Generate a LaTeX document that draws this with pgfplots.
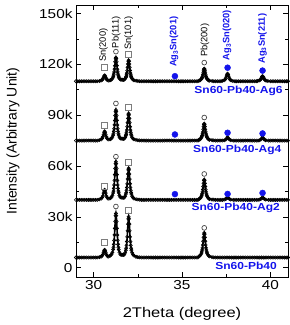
\documentclass[border=0pt]{standalone}
\usepackage{fontspec}
% horizontal text is set slightly wide; rotated text uses the plain face
\setmainfont{Liberation Sans}[FakeStretch=1.18]
\newfontfamily\plainsans{Liberation Sans}
\usepackage{pgfplots}
\pgfplotsset{compat=1.18}
\definecolor{markblue}{RGB}{20,20,235}
\definecolor{sqgray}{RGB}{125,125,125}
\definecolor{ringgray}{RGB}{70,70,70}
\pgfplotsset{
  xrd/.style={black, line width=1.6bp, mark=o, mark size=1.6bp,
    mark options={line width=0.6bp, solid}},
  snmark/.style={only marks, mark=square, mark size=3bp,
    mark options={draw=sqgray, line width=0.7bp}},
  pbmark/.style={only marks, mark=o, mark size=2.4bp,
    mark options={draw=ringgray, line width=0.7bp}},
  agmark/.style={only marks, mark=*, mark size=3bp,
    mark options={draw=markblue, fill=markblue}},
}
\begin{document}
\begin{tikzpicture}
\path[use as bounding box] (-76bp,-48bp) rectangle (214bp,277bp);
\begin{axis}[
  at={(0,0)}, anchor=south west,
  scale only axis, width=212bp, height=272bp,
  xmin=29, xmax=41, ymin=-5.5, ymax=155,
  xtick={30,35,40}, minor x tick num=1,
  ytick={0,30,60,90,120,150}, yticklabels={0,30k,60k,90k,120k,150k},
  minor y tick num=1,
  tick align=inside, major tick length=5bp, minor tick length=3bp,
  /pgf/number format/assume math mode=true,
  tick label style={font=\fontsize{13bp}{15bp}\selectfont},
  xlabel={2Theta (degree)}, ylabel={Intensity (Arbitrary Unit)},
  xlabel style={font=\fontsize{14bp}{16bp}\selectfont,
    at={(axis description cs:0.5,-0.136)}, anchor=center},
  ylabel style={font=\plainsans\fontsize{14bp}{16bp}\selectfont,
    at={(axis description cs:-0.297,0.5)}, anchor=center},
  axis line style={line width=0.8bp},
  every tick/.style={black, line width=0.6bp},
  clip=false,
]
% Sn60-Pb40
\addplot[xrd] coordinates {
(29.0,6)(29.1,6)(29.2,6)(29.3,6)(29.4,6)(29.5,6)(29.6,6)(29.7,6)(29.8,6)(29.9,6)(30.0,6)(30.1,6)(30.2,6)
(30.32,6.2)(30.42,6.5)(30.48,7.0)(30.52,7.8)(30.56,9.0)(30.59,10.0)(30.62,10.5)(30.65,10.0)(30.68,9.0)(30.72,7.8)(30.76,7.0)(30.82,6.5)(30.92,6.9)
(30.96,7.3)(31.01,7.8)(31.06,9.0)(31.10,10.7)(31.12,12.0)(31.14,13.8)(31.16,16.1)(31.18,19.3)(31.20,23.2)(31.22,27.3)(31.24,30.7)(31.26,32.0)
(31.28,30.7)(31.30,27.3)(31.32,23.2)(31.34,19.3)(31.36,16.1)(31.38,13.8)(31.40,12.0)(31.42,10.7)(31.46,9.0)(31.51,7.8)(31.56,7.6)(31.62,7.6)
(31.68,7.5)(31.73,7.7)(31.78,8.8)(31.82,10.3)(31.84,11.5)(31.86,13.2)(31.88,15.4)(31.90,18.2)(31.92,21.8)(31.94,25.7)(31.96,28.8)(31.98,30.0)
(32.00,28.8)(32.02,25.7)(32.04,21.8)(32.06,18.2)(32.08,15.4)(32.10,13.2)(32.12,11.5)(32.14,10.3)(32.18,8.8)(32.23,7.7)(32.28,7.1)(32.4,6.4)(32.5,6.2)(32.6,6.1)
(32.7,6)(32.8,6)(32.9,6)(33.0,6)(33.1,6)(33.2,6)(33.3,6)(33.4,6)(33.5,6)(33.6,6)(33.7,6)(33.8,6)(33.9,6)(34.0,6)(34.1,6)(34.2,6)(34.3,6)
(34.4,6)(34.5,6)(34.6,6)(34.7,6)(34.8,6)(34.9,6)(35.0,6)(35.1,6)(35.2,6)(35.3,6)(35.4,6)(35.5,6)(35.6,6)(35.7,6)(35.8,6)(35.9,6)
(35.96,6.65)(36.01,7.0)(36.06,7.7)(36.10,8.6)(36.12,9.3)(36.14,10.4)(36.16,11.7)(36.18,13.4)(36.20,15.6)(36.22,17.9)(36.24,19.8)(36.26,20.5)
(36.28,19.8)(36.30,17.9)(36.32,15.6)(36.34,13.4)(36.36,11.7)(36.38,10.4)(36.40,9.3)(36.42,8.6)(36.46,7.7)(36.51,7.0)(36.56,6.65)(36.7,6.2)(36.8,6.1)
(36.9,6)(37.0,6)(37.1,6)(37.2,6)(37.3,6)(37.4,6)(37.5,6)(37.6,6)(37.7,6)(37.8,6)(37.9,6)(38.0,6)(38.1,6)(38.2,6)(38.3,6)(38.4,6)(38.5,6)
(38.6,6)(38.7,6)(38.8,6)(38.9,6)(39.0,6)(39.1,6)(39.2,6)(39.3,6)(39.4,6)(39.5,6)(39.6,6)(39.7,6)(39.8,6)(39.9,6)(40.0,6)(40.1,6)(40.2,6)
(40.3,6)(40.4,6)(40.5,6)(40.6,6)(40.7,6)(40.8,6)(40.9,6)(41.0,6)
};
% Sn60-Pb40-Ag2
\addplot[xrd] coordinates {
(29.0,40)(29.1,40)(29.2,40)(29.3,40)(29.4,40)(29.5,40)(29.6,40)(29.7,40)(29.8,40)(29.9,40)(30.0,40)(30.1,40)(30.2,40)
(30.32,40.3)(30.42,40.7)(30.48,41.4)(30.52,42.3)(30.56,44.0)(30.59,45.3)(30.62,46.0)(30.65,45.3)(30.68,44.0)(30.72,42.3)(30.76,41.4)(30.82,40.7)(30.92,40.8)
(30.96,41.1)(31.01,41.6)(31.06,42.6)(31.10,44.1)(31.12,45.2)(31.14,46.8)(31.16,48.8)(31.18,51.5)(31.20,54.9)(31.22,58.5)(31.24,61.4)(31.26,62.5)
(31.28,61.4)(31.30,58.5)(31.32,54.9)(31.34,51.5)(31.36,48.8)(31.38,46.8)(31.40,45.2)(31.42,44.1)(31.46,42.6)(31.51,41.6)(31.56,41.3)(31.62,41.3)
(31.68,41.2)(31.73,41.4)(31.78,42.1)(31.82,43.4)(31.84,44.3)(31.86,45.6)(31.88,47.3)(31.90,49.5)(31.92,52.3)(31.94,55.3)(31.96,57.7)(31.98,58.6)
(32.00,57.7)(32.02,55.3)(32.04,52.3)(32.06,49.5)(32.08,47.3)(32.10,45.6)(32.12,44.3)(32.14,43.4)(32.18,42.1)(32.23,41.3)(32.28,40.8)(32.4,40.4)(32.5,40.2)(32.6,40.1)
(32.7,40)(32.8,40)(32.9,40)(33.0,40)(33.1,40)(33.2,40)(33.3,40)(33.4,40)(33.5,40)(33.6,40)(33.7,40)(33.8,40)(33.9,40)(34.0,40)(34.1,40)(34.2,40)(34.3,40)
(34.4,40)(34.5,40)(34.6,40)(34.7,40)(34.8,40)(34.9,40)(35.0,40)(35.1,40)(35.2,40)(35.3,40)(35.4,40)(35.5,40)(35.6,40)(35.7,40)(35.8,40)(35.9,40)
(35.96,40.5)(36.01,40.8)(36.06,41.4)(36.10,42.2)(36.12,42.8)(36.14,43.6)(36.16,44.7)(36.18,46.1)(36.20,47.9)(36.22,49.8)(36.24,51.4)(36.26,52.0)
(36.28,51.4)(36.30,49.8)(36.32,47.9)(36.34,46.1)(36.36,44.7)(36.38,43.6)(36.40,42.8)(36.42,42.2)(36.46,41.4)(36.51,40.8)(36.56,40.5)(36.7,40.2)(36.8,40.1)
(36.9,40)(37.0,40)(37.1,40)(37.2,40)(37.3,40)
(37.40,40.2)(37.48,40.5)(37.54,41.1)(37.58,41.5)(37.62,41.1)(37.68,40.5)(37.76,40.2)
(37.9,40)(38.0,40)(38.1,40)(38.2,40)(38.3,40)(38.4,40)(38.5,40)(38.6,40)(38.7,40)(38.8,40)(38.9,40)(39.0,40)(39.1,40)(39.2,40)(39.3,40)
(39.38,40.2)(39.46,40.5)(39.52,41.1)(39.56,41.5)(39.60,41.1)(39.66,40.5)(39.74,40.2)
(39.9,40)(40.0,40)(40.1,40)(40.2,40)(40.3,40)(40.4,40)(40.5,40)(40.6,40)(40.7,40)(40.8,40)(40.9,40)(41.0,40)
};
% Sn60-Pb40-Ag4
\addplot[xrd] coordinates {
(29.0,75)(29.1,75)(29.2,75)(29.3,75)(29.4,75)(29.5,75)(29.6,75)(29.7,75)(29.8,75)(29.9,75)(30.0,75)(30.1,75)(30.2,75)
(30.32,75.25)(30.42,75.6)(30.48,76.3)(30.52,77.2)(30.56,78.6)(30.59,79.9)(30.62,80.5)(30.65,79.9)(30.68,78.6)(30.72,77.2)(30.76,76.3)(30.82,75.6)(30.92,75.7)
(30.96,75.9)(31.01,76.3)(31.06,77.1)(31.10,78.2)(31.12,79.1)(31.14,80.4)(31.16,82.0)(31.18,84.2)(31.20,86.9)(31.22,89.8)(31.24,92.1)(31.26,93.0)
(31.28,92.1)(31.30,89.8)(31.32,86.9)(31.34,84.2)(31.36,82.0)(31.38,80.4)(31.40,79.1)(31.42,78.2)(31.46,77.1)(31.51,76.3)(31.56,76.1)(31.62,76.1)
(31.68,76.0)(31.73,76.2)(31.78,76.8)(31.82,77.9)(31.84,78.7)(31.86,79.8)(31.88,81.2)(31.90,83.2)(31.92,85.6)(31.94,88.1)(31.96,90.2)(31.98,91.0)
(32.00,90.2)(32.02,88.1)(32.04,85.6)(32.06,83.2)(32.08,81.2)(32.10,79.8)(32.12,78.7)(32.14,77.9)(32.18,76.8)(32.23,76.1)(32.28,75.7)(32.4,75.4)(32.5,75.2)(32.6,75.1)
(32.7,75)(32.8,75)(32.9,75)(33.0,75)(33.1,75)(33.2,75)(33.3,75)(33.4,75)(33.5,75)(33.6,75)(33.7,75)(33.8,75)(33.9,75)(34.0,75)(34.1,75)(34.2,75)(34.3,75)
(34.4,75)(34.5,75)(34.6,75)(34.7,75)(34.8,75)(34.9,75)(35.0,75)(35.1,75)(35.2,75)(35.3,75)(35.4,75)(35.5,75)(35.6,75)(35.7,75)(35.8,75)(35.9,75)
(35.96,75.45)(36.01,75.7)(36.06,76.15)(36.10,76.8)(36.12,77.3)(36.14,78.0)(36.16,78.9)(36.18,80.1)(36.20,81.6)(36.22,83.2)(36.24,84.5)(36.26,85.0)
(36.28,84.5)(36.30,83.2)(36.32,81.6)(36.34,80.1)(36.36,78.9)(36.38,78.0)(36.40,77.3)(36.42,76.8)(36.46,76.15)(36.51,75.7)(36.56,75.45)(36.7,75.2)(36.8,75.1)
(36.9,75)(37.0,75)(37.1,75)(37.2,75)(37.3,75)
(37.40,75.2)(37.48,75.6)(37.54,76.4)(37.58,77.0)(37.62,76.4)(37.68,75.6)(37.76,75.2)
(37.9,75)(38.0,75)(38.1,75)(38.2,75)(38.3,75)(38.4,75)(38.5,75)(38.6,75)(38.7,75)(38.8,75)(38.9,75)(39.0,75)(39.1,75)(39.2,75)(39.3,75)
(39.38,75.2)(39.46,75.6)(39.52,76.4)(39.56,77.0)(39.60,76.4)(39.66,75.6)(39.74,75.2)
(39.9,75)(40.0,75)(40.1,75)(40.2,75)(40.3,75)(40.4,75)(40.5,75)(40.6,75)(40.7,75)(40.8,75)(40.9,75)(41.0,75)
};
% Sn60-Pb40-Ag6
\addplot[xrd] coordinates {
(29.0,110)(29.1,110)(29.2,110)(29.3,110)(29.4,110)(29.5,110)(29.6,110)(29.7,110)(29.8,110)(29.9,110)(30.0,110)(30.1,110)(30.2,110)
(30.32,110.15)(30.42,110.4)(30.48,110.8)(30.52,111.4)(30.56,112.3)(30.59,113.1)(30.62,113.5)(30.65,113.1)(30.68,112.3)(30.72,111.4)(30.76,110.8)(30.82,110.4)(30.92,110.5)
(30.96,110.7)(31.01,111.0)(31.06,111.6)(31.10,112.5)(31.12,113.2)(31.14,114.2)(31.16,115.5)(31.18,117.1)(31.20,119.2)(31.22,121.5)(31.24,123.3)(31.26,124.0)
(31.28,123.3)(31.30,121.5)(31.32,119.2)(31.34,117.1)(31.36,115.5)(31.38,114.2)(31.40,113.2)(31.42,112.5)(31.46,111.6)(31.51,111.0)(31.56,110.9)(31.62,110.9)
(31.68,110.8)(31.73,111.0)(31.78,111.45)(31.82,112.2)(31.84,112.85)(31.86,113.7)(31.88,114.8)(31.90,116.3)(31.92,118.2)(31.94,120.2)(31.96,121.8)(31.98,122.4)
(32.00,121.8)(32.02,120.2)(32.04,118.2)(32.06,116.3)(32.08,114.8)(32.10,113.7)(32.12,112.85)(32.14,112.2)(32.18,111.45)(32.23,110.9)(32.28,110.56)(32.4,110.3)(32.5,110.15)(32.6,110.05)
(32.7,110)(32.8,110)(32.9,110)(33.0,110)(33.1,110)(33.2,110)(33.3,110)(33.4,110)(33.5,110)(33.6,110)(33.7,110)(33.8,110)(33.9,110)(34.0,110)(34.1,110)(34.2,110)(34.3,110)
(34.4,110)(34.5,110)(34.6,110)(34.7,110)(34.8,110)(34.9,110)(35.0,110)(35.1,110)(35.2,110)(35.3,110)(35.4,110)(35.5,110)(35.6,110)(35.7,110)(35.8,110)(35.9,110)
(35.96,110.35)(36.01,110.5)(36.06,110.9)(36.10,111.35)(36.12,111.7)(36.14,112.25)(36.16,112.9)(36.18,113.8)(36.20,114.95)(36.22,116.15)(36.24,117.1)(36.26,117.5)
(36.28,117.1)(36.30,116.15)(36.32,114.95)(36.34,113.8)(36.36,112.9)(36.38,112.25)(36.40,111.7)(36.42,111.35)(36.46,110.9)(36.51,110.5)(36.56,110.35)(36.7,110.15)
(36.8,110)(36.9,110)(37.0,110)(37.1,110)(37.2,110)
(37.28,110.2)(37.38,110.5)(37.44,111.0)(37.48,111.8)(37.52,113.0)(37.55,114.0)(37.58,114.5)(37.61,114.0)(37.64,113.0)(37.68,111.8)(37.72,111.0)(37.78,110.5)(37.88,110.2)
(38.0,110)(38.1,110)(38.2,110)(38.3,110)(38.4,110)(38.5,110)(38.6,110)(38.7,110)(38.8,110)(38.9,110)(39.0,110)(39.1,110)(39.2,110)
(39.26,110.15)(39.36,110.35)(39.42,110.7)(39.46,111.2)(39.50,112.0)(39.53,112.7)(39.56,113.0)(39.59,112.7)(39.62,112.0)(39.66,111.2)(39.70,110.7)(39.76,110.35)(39.86,110.15)
(40.0,110)(40.1,110)(40.2,110)(40.3,110)(40.4,110)(40.5,110)(40.6,110)(40.7,110)(40.8,110)(40.9,110)(41.0,110)
};
% reflection markers: Sn (squares), Pb (rings), Ag3Sn (dots)
\addplot[snmark] coordinates {(30.62,14.7)(31.98,33.7)(30.62,48.2)(31.98,62.0)(30.62,84.1)(31.98,94.5)(30.62,118.4)(31.98,126.0)};
\addplot[pbmark] coordinates {(31.26,36.1)(36.26,23.5)(31.26,65.5)(36.26,55.3)(31.26,96.9)(36.26,88.6)(31.26,127.5)(36.26,121.0)};
\addplot[agmark] coordinates {(34.6,43.4)(37.58,43.5)(39.56,44.1)(34.6,78.6)(37.58,79.6)(39.56,79.2)(34.6,113.0)(37.58,118.0)(39.56,116.3)};
% reflection names
\begin{scope}[every node/.style={rotate=90, anchor=west, inner sep=0pt,
    font=\plainsans\fontsize{9.3bp}{11bp}\selectfont}]
\node at (axis cs:30.55,121.4) {Sn(200)};
\node at (axis cs:31.28,129.5) {Pb(111)};
\node at (axis cs:31.98,128.5) {Sn(101)};
\node at (axis cs:36.30,124.3) {Pb(200)};
\node[text=markblue, font=\plainsans\bfseries\fontsize{9.3bp}{11bp}\selectfont] at (axis cs:34.55,118.4) {Ag\textsubscript{3}Sn(201)};
\node[text=markblue, font=\plainsans\bfseries\fontsize{9.3bp}{11bp}\selectfont] at (axis cs:37.55,122.4) {Ag\textsubscript{3}Sn(020)};
\node[text=markblue, font=\plainsans\bfseries\fontsize{9.3bp}{11bp}\selectfont] at (axis cs:39.55,120.4) {Ag\textsubscript{3}Sn(211)};
\end{scope}
% sample names
\begin{scope}[every node/.style={anchor=east, inner sep=0pt, text=markblue,
    font=\bfseries\fontsize{10.2bp}{12bp}\selectfont}]
\node at (axis cs:40.71,104.3) {Sn60-Pb40-Ag6};
\node at (axis cs:40.64,69.4) {Sn60-Pb40-Ag4};
\node at (axis cs:40.55,35.3) {Sn60-Pb40-Ag2};
\node at (axis cs:40.38,0.8) {Sn60-Pb40};
\end{scope}
\end{axis}
\end{tikzpicture}
\end{document}
